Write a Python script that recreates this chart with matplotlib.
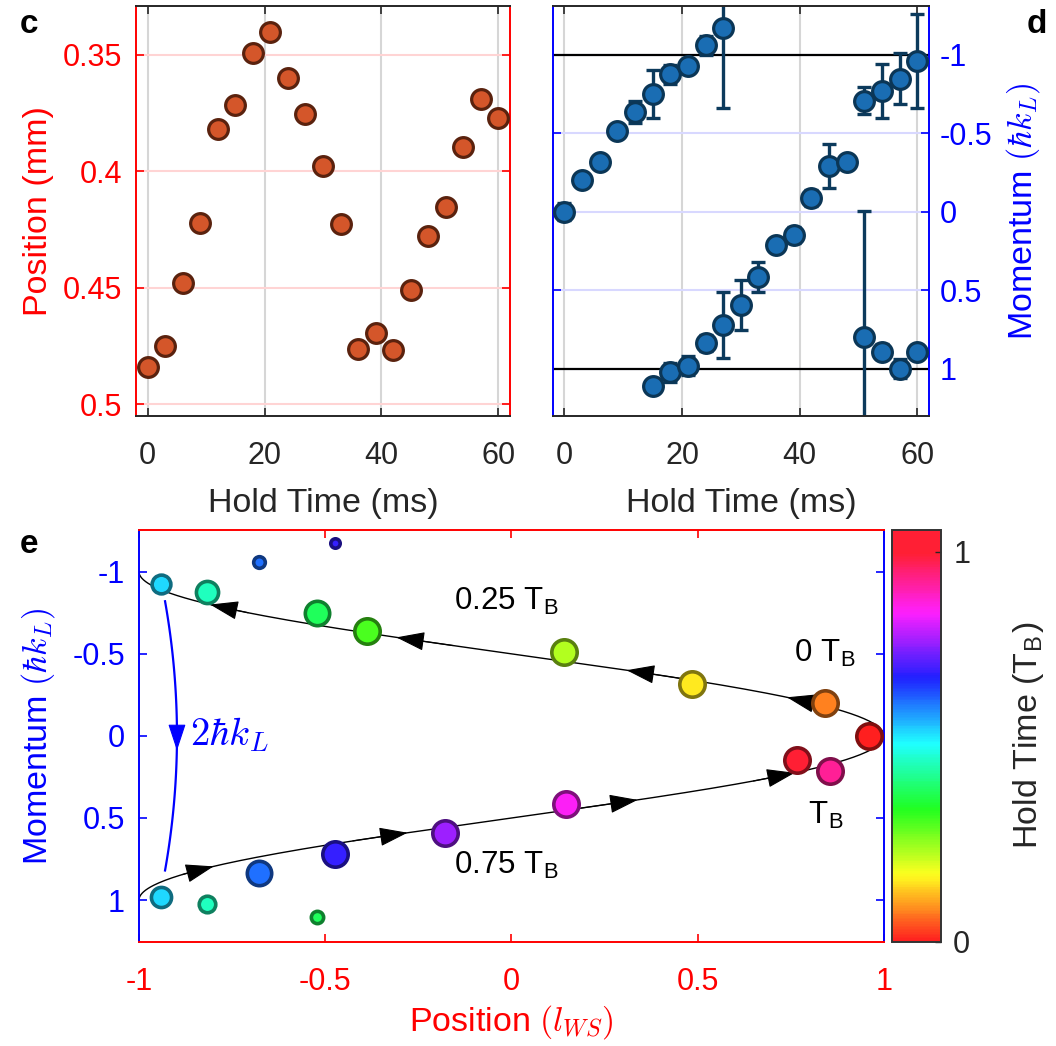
import numpy as np
import matplotlib
matplotlib.use('Agg')
import matplotlib.pyplot as plt
from matplotlib.colors import ListedColormap, Normalize
from matplotlib.cm import ScalarMappable

plt.rcParams['font.family'] = ['Liberation Sans', 'DejaVu Sans']
plt.rcParams['mathtext.fontset'] = 'cm'
plt.rcParams['axes.unicode_minus'] = False

RED = '#ff0000'
BLUE = '#0000ff'
DARK = '#262626'

# cloud position vs hold time (panel c)
hold_ms = [0, 3, 6, 9, 12, 15, 18, 21, 24, 27, 30, 33, 36, 39, 42, 45, 48, 51, 54, 57, 60]
position_mm = [0.484, 0.475, 0.448, 0.422, 0.382, 0.3717, 0.3493, 0.340, 0.360, 0.3754, 0.3977,
               0.4224, 0.4761, 0.4695, 0.4765, 0.451, 0.4277, 0.4154, 0.3895, 0.3691, 0.3769]

# momentum peaks vs hold time (panel d), two peaks where the cloud splits
mom_ms = [0, 3, 6, 9, 12, 15, 18, 21, 24, 27,
          15, 18, 21, 24, 27, 30, 33, 36, 39, 42, 45, 48,
          51, 54, 57, 60,
          51, 54, 57, 60]
momentum = [0.0, -0.20, -0.314, -0.513, -0.636, -0.75, -0.875, -0.928, -1.06, -1.172,
            1.106, 1.023, 0.979, 0.837, 0.72, 0.593, 0.417, 0.212, 0.148, -0.089, -0.292, -0.314,
            0.795, 0.89, 1.0, 0.89,
            -0.706, -0.769, -0.848, -0.958]
momentum_err = [0.055, 0.02, 0.02, 0.02, 0.07, 0.15, 0.06, 0.03, 0.06, 0.51,
                0.02, 0.06, 0.06, 0.05, 0.21, 0.16, 0.095, 0.02, 0.05, 0.05, 0.14, 0.02,
                0.80, 0.05, 0.06, 0.04,
                0.085, 0.17, 0.16, 0.30]
# relative weight of each momentum peak
population = [1, 1, 1, 1, 1, 0.94, 0.81, 0.61, 0.19, 0.06,
              0.23, 0.48, 0.69, 0.94, 1, 1, 1, 1, 1, 1, 1, 1,
              1, 1, 1, 1,
              1, 1, 1, 1]

T_B = 39.0           # Bloch period (ms)
center_mm = 0.4113   # centre of the breathing motion
l_ws_mm = 0.0758     # Wannier-Stark length

cb_max = 1.056
hue = np.clip(np.linspace(0, cb_max, 256), 0, 1)
base = plt.get_cmap('hsv')(hue)[:, :3]
cmap = ListedColormap(0.88 * base + 0.12)
norm = Normalize(0, cb_max)

fig = plt.figure(figsize=(10.56, 10.46), dpi=100)

tick_fs = 22
label_fs = 24.5

# ---------------- panel c ----------------
axc = fig.add_axes([0.1288, 0.6023, 0.3542, 0.3920])
axc.plot(hold_ms, position_mm, 'o', ms=14.2, mfc='#d4562a', mec='#5a220e', mew=2.3, zorder=3)
axc.set_xlim(-2, 62)
axc.set_ylim(0.505, 0.329)
axc.set_xticks([0, 20, 40, 60])
axc.set_yticks([0.35, 0.4, 0.45, 0.5])
axc.set_yticklabels(['0.35', '0.4', '0.45', '0.5'])
axc.grid(axis='x', color='#d6d6d6', lw=1.5)
axc.grid(axis='y', color='#ffd4d4', lw=1.5)
axc.set_axisbelow(True)
axc.tick_params(axis='y', direction='in', left=True, right=True, colors=RED,
                labelsize=tick_fs, length=6, width=1.2, pad=10)
axc.tick_params(axis='x', direction='in', top=True, bottom=True, colors=DARK,
                labelsize=tick_fs, length=6, width=1.2, pad=18)
for s in ['left', 'right']:
    axc.spines[s].set_color(RED)
for s in ['top', 'bottom']:
    axc.spines[s].set_color(DARK)
for s in axc.spines.values():
    s.set_linewidth(1.4)
axc.set_xlabel('Hold Time (ms)', fontsize=label_fs, color=DARK)
axc.set_ylabel('Position (mm)', fontsize=label_fs, color=RED)
axc.xaxis.set_label_coords(0.5, -0.175)
axc.yaxis.set_label_coords(-0.22, 0.5)

# ---------------- panel d ----------------
axd = fig.add_axes([0.5234, 0.6023, 0.3563, 0.3920])
axd.axhline(-1, color='k', lw=1.6, zorder=1.5)
axd.axhline(1, color='k', lw=1.6, zorder=1.5)
axd.errorbar(mom_ms, momentum, yerr=momentum_err, fmt='none', ecolor='#0c3a5c',
             elinewidth=2.4, capsize=5, capthick=2.4, zorder=2)
axd.plot(mom_ms, momentum, 'o', ms=14.2, mfc='#1a6db3', mec='#0b3656', mew=2.3, zorder=3)
axd.set_xlim(-2, 62)
axd.set_ylim(1.3, -1.31)
axd.set_xticks([0, 20, 40, 60])
axd.set_yticks([-1, -0.5, 0, 0.5, 1])
axd.set_yticklabels(['-1', '-0.5', '0', '0.5', '1'])
axd.grid(axis='x', color='#d6d6d6', lw=1.5)
axd.grid(axis='y', color='#d8d8ff', lw=1.5)
axd.set_axisbelow(True)
axd.yaxis.tick_right()
axd.yaxis.set_label_position('right')
axd.tick_params(axis='y', direction='in', left=True, right=True, labelleft=False,
                labelright=True, colors=BLUE, labelsize=tick_fs, length=6, width=1.2, pad=8)
axd.tick_params(axis='x', direction='in', top=True, bottom=True, colors=DARK,
                labelsize=tick_fs, length=6, width=1.2, pad=18)
for s in ['left', 'right']:
    axd.spines[s].set_color(BLUE)
for s in ['top', 'bottom']:
    axd.spines[s].set_color(DARK)
for s in axd.spines.values():
    s.set_linewidth(1.4)
axd.set_xlabel('Hold Time (ms)', fontsize=label_fs, color=DARK)
axd.set_ylabel(r'Momentum $(\hbar k_L)$', fontsize=label_fs, color=BLUE)
axd.xaxis.set_label_coords(0.5, -0.175)
axd.yaxis.set_label_coords(1.2, 0.5)

# ---------------- panel e ----------------
axe = fig.add_axes([0.1316, 0.0997, 0.7055, 0.3936])

# Bloch trajectory in a cosine band
p_line = np.linspace(-1, 1, 401)
axe.plot(np.cos(np.pi * p_line), p_line, color='k', lw=1.0, zorder=2)

# direction arrows along the trajectory (momentum at the tip)
arrow_tips = [-0.80, -0.60, -0.40, -0.235, 0.795, 0.59, 0.39, 0.225]
for pt in arrow_tips:
    pb = pt + 0.05
    axe.annotate('', xy=(np.cos(np.pi * pt), pt), xytext=(np.cos(np.pi * pb), pb),
                 arrowprops=dict(arrowstyle='-|>,head_length=0.9,head_width=0.3',
                                 mutation_scale=20, fc='k', ec='k', lw=0.8,
                                 shrinkA=0, shrinkB=0), zorder=3)

# Bragg reflection at the zone edge
p_jump = np.linspace(-0.82, 0.82, 100)
axe.plot(-0.93 + 0.032 * (1 - (p_jump / 0.82) ** 2), p_jump, color=BLUE, lw=1.6, zorder=2)
axe.annotate('', xy=(-0.898, 0.09), xytext=(-0.898, -0.06),
             arrowprops=dict(arrowstyle='-|>,head_length=0.85,head_width=0.28',
                             mutation_scale=20, fc=BLUE, ec=BLUE, lw=0.8,
                             shrinkA=0, shrinkB=0), zorder=3)
axe.text(-0.862, -0.01, r'$2\hbar k_L$', fontsize=28, color=BLUE, ha='left', va='center')

pos_lookup = dict(zip(hold_ms, position_mm))
for t, p, w in zip(mom_ms, momentum, population):
    if t > T_B:
        continue
    x = (pos_lookup[t] - center_mm) / l_ws_mm
    face = np.array(cmap(norm(t / T_B))[:3])
    edge = face * 0.5
    d_px = 12 + 17 * w
    axe.plot(x, p, 'o', ms=d_px / 1.389 - 2.6, mfc=face, mec=edge, mew=2.6, zorder=4)

txt_fs = 22.5
axe.text(-0.155, -0.768, r'0.25 T$_\mathregular{B}$', fontsize=txt_fs, color='k')
axe.text(-0.155, 0.837, r'0.75 T$_\mathregular{B}$', fontsize=txt_fs, color='k')
axe.text(0.758, -0.453, r'0 T$_\mathregular{B}$', fontsize=txt_fs, color='k')
axe.text(0.796, 0.532, r'T$_\mathregular{B}$', fontsize=txt_fs, color='k')

axe.set_xlim(-1, 1)
axe.set_ylim(1.254, -1.254)
axe.set_xticks([-1, -0.5, 0, 0.5, 1])
axe.set_xticklabels(['-1', '-0.5', '0', '0.5', '1'])
axe.set_yticks([-1, -0.5, 0, 0.5, 1])
axe.set_yticklabels(['-1', '-0.5', '0', '0.5', '1'])
axe.tick_params(axis='y', direction='in', left=True, right=True, colors=BLUE,
                labelsize=tick_fs, length=6, width=1.2, pad=10)
axe.tick_params(axis='x', direction='in', top=True, bottom=True, colors=RED,
                labelsize=tick_fs, length=6, width=1.2, pad=18)
for s in ['left', 'right']:
    axe.spines[s].set_color(BLUE)
for s in ['top', 'bottom']:
    axe.spines[s].set_color(RED)
for s in axe.spines.values():
    s.set_linewidth(1.4)
axe.set_xlabel(r'Position $(l_{WS})$', fontsize=label_fs, color=RED)
axe.set_ylabel(r'Momentum $(\hbar k_L)$', fontsize=label_fs, color=BLUE)
axe.xaxis.set_label_coords(0.5, -0.15)
axe.yaxis.set_label_coords(-0.11, 0.5)

# colour bar: hold time in units of the Bloch period
cax = fig.add_axes([0.845, 0.0997, 0.0458, 0.3936])
cb = fig.colorbar(ScalarMappable(norm=norm, cmap=cmap), cax=cax, ticks=[0, 1])
cb.outline.set_edgecolor('#333333')
cb.outline.set_linewidth(1.4)
cax.tick_params(direction='in', length=4, width=1.0, colors=DARK, labelsize=tick_fs, pad=9)
cax.set_ylabel(r'Hold Time (T$_\mathregular{B}$)', fontsize=label_fs, color=DARK)
cax.yaxis.set_label_coords(2.45, 0.5)

# panel letters
fig.text(20 / 1056, 1 - 33 / 1046, 'c', fontsize=24, fontweight='bold')
fig.text(1027 / 1056, 1 - 33 / 1046, 'd', fontsize=24, fontweight='bold')
fig.text(20 / 1056, 1 - 553 / 1046, 'e', fontsize=24, fontweight='bold')

fig.savefig('out.png', dpi=100)
